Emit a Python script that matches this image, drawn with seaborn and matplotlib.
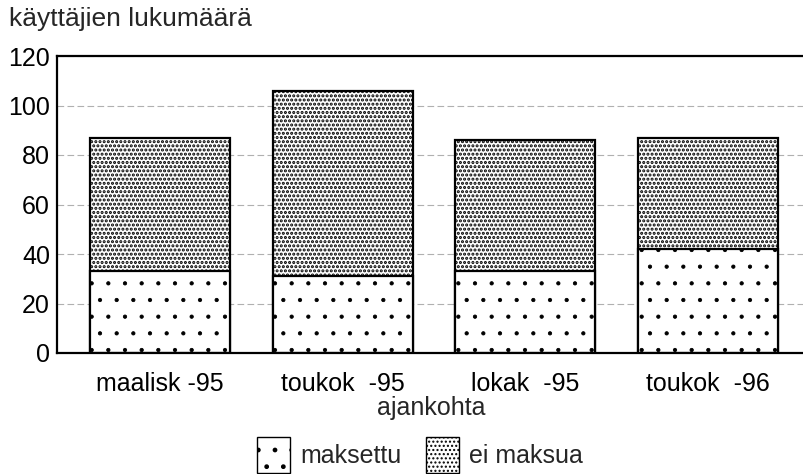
import matplotlib
matplotlib.use("Agg")
import matplotlib.pyplot as plt
import matplotlib.patches as mpatches
import seaborn as sns

# data
ajankohdat = ["maalisk -95", "toukok  -95", "lokak  -95", "toukok  -96"]
maksettu = [33, 31, 33, 42]
ei_maksua = [54, 75, 53, 45]
yhteensa = [m + e for m, e in zip(maksettu, ei_maksua)]

sns.set_style("white")
plt.rcParams["font.family"] = ["Liberation Sans", "DejaVu Sans"]
plt.rcParams["hatch.color"] = "black"
plt.rcParams["hatch.linewidth"] = 1.0

fig = plt.figure(figsize=(8.04, 4.74), dpi=100)
ax = fig.add_axes([57 / 804, 121 / 474, 749 / 804, 297 / 474])

# full height bars = ei maksua on top, maksettu drawn over the lower part
sns.barplot(x=ajankohdat, y=yhteensa, color="white", edgecolor="black",
            linewidth=1.6, width=0.766, ax=ax)
sns.barplot(x=ajankohdat, y=maksettu, color="white", edgecolor="black",
            linewidth=1.6, width=0.766, ax=ax)
n = len(ajankohdat)
for i, p in enumerate(ax.patches):
    p.set_hatch("...." if i < n else ".")
    if hasattr(p, "set_hatch_linewidth"):
        p.set_hatch_linewidth(1.5 if i < n else 0.6)

ax.set_ylim(0, 120)
ax.set_xlim(-0.564, 3.536)
ax.set_yticks(range(0, 121, 20))
ax.yaxis.grid(True, color="#b0b0b0", linestyle=(0, (6, 3)), linewidth=0.8)
ax.set_axisbelow(True)
for s in ax.spines.values():
    s.set_color("black")
    s.set_linewidth(1.6)
ax.tick_params(axis="both", direction="in", length=5, width=1.2,
               labelsize=18, colors="black", pad=14)
ax.tick_params(axis="y", pad=5, length=0)
ax.set_xlabel("ajankohta", fontsize=18, labelpad=0)
ax.set_ylabel("")

fig.text(9 / 804, 1 - 19 / 474, "käyttäjien lukumäärä", fontsize=19,
         va="center", ha="left")

h1 = mpatches.Patch(facecolor="white", edgecolor="black", hatch=".", label="maksettu")
h2 = mpatches.Patch(facecolor="white", edgecolor="black", hatch="....", label="ei maksua")
if hasattr(h1, "set_hatch_linewidth"):
    h1.set_hatch_linewidth(0.6)
    h2.set_hatch_linewidth(1.5)
fig.legend(handles=[h1, h2], loc="center", bbox_to_anchor=(420 / 804, 1 - 455 / 474),
           ncol=2, frameon=False, fontsize=18, handlelength=1.3, handleheight=1.8,
           handletextpad=0.4, columnspacing=1.0)

fig.savefig("out.png", dpi=100)
